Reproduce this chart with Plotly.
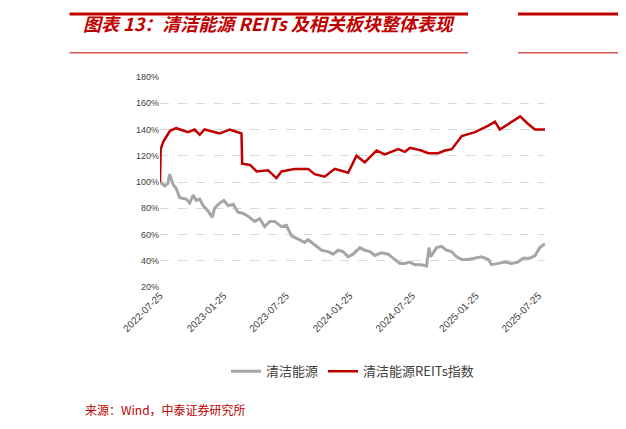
import pandas as pd
import plotly.graph_objects as go

start = pd.Timestamp("2022-07-25")

# days since 2022-07-25, value in %
reits_days = [0, 2, 10, 29, 47, 81, 100, 115, 129, 173, 202, 236, 238, 261, 280, 313, 337, 352,
              391, 429, 448, 477, 506, 545, 569, 593, 627, 651, 690, 709, 724, 757, 777, 806,
              825, 845, 874, 912, 951, 970, 984, 1009, 1043, 1067, 1086, 1115]
reits_vals = [100, 125, 131, 139, 141, 138, 140, 136, 140, 137, 140, 137, 114, 113, 108, 109, 103, 108,
              110, 110, 106, 104, 110, 107, 120, 115, 124, 121, 125, 123, 126, 124, 122, 122,
              124, 125, 135, 138, 143, 146, 140, 144, 150, 144, 140, 140]

clean_days = [0, 14, 23, 28, 38, 47, 57, 76, 86, 96, 105, 115, 125, 139, 151, 158, 173, 185, 197,
              212, 226, 241, 255, 274, 289, 303, 318, 332, 352, 366, 381, 405, 419, 429, 448, 468,
              487, 501, 516, 530, 545, 559, 579, 593, 608, 622, 641, 661, 675, 695, 709, 724, 738,
              757, 772, 779, 784, 801, 815, 830, 844, 859, 873, 893, 912, 931, 951, 960, 980, 999,
              1018, 1037, 1052, 1071, 1086, 1100, 1115]
clean_vals = [100, 97, 99, 106, 98, 95, 88, 87, 84, 90, 86, 87, 82, 78, 73, 80, 84, 86, 82,
              83, 77, 76, 74, 70, 72, 66, 70, 70, 66, 67, 59, 56, 54, 56, 52, 48,
              47, 45, 48, 47, 43, 45, 50, 48, 47, 44, 46, 45, 42, 38, 38, 39, 37,
              37, 36, 50, 43, 50, 51, 48, 47, 43, 41, 41, 42, 43, 41, 37, 38, 39,
              38, 39, 42, 42, 44, 50, 53]

tick_labels = ["2022-07-25", "2023-01-25", "2023-07-25", "2024-01-25", "2024-07-25", "2025-01-25", "2025-07-25"]

reits_x = start + pd.to_timedelta(reits_days, unit="D")
clean_x = start + pd.to_timedelta(clean_days, unit="D")

fig = go.Figure()
fig.add_trace(go.Scatter(x=clean_x, y=clean_vals, mode="lines", name="清洁能源",
                         line=dict(color="#a6a6a6", width=3)))
fig.add_trace(go.Scatter(x=reits_x, y=reits_vals, mode="lines", name="清洁能源REITs指数",
                         line=dict(color="#c00000", width=2.5)))

font = "Noto Sans CJK SC"
fig.update_layout(
    width=626, height=429,
    margin=dict(l=152, r=89, t=69, b=150),
    paper_bgcolor="white", plot_bgcolor="white",
    font=dict(family=font, color="#404040"),
    showlegend=True,
    legend=dict(orientation="h", x=0.5, xanchor="center", y=-0.33, yanchor="top",
                font=dict(size=13, color="#404040")),
    xaxis=dict(range=[reits_x[0], reits_x[-1]], tickvals=pd.to_datetime(tick_labels),
               ticktext=tick_labels, tickangle=-45, showgrid=False, zeroline=False,
               showline=False, tickfont=dict(size=10, family="Arial", color="#404040")),
    yaxis=dict(range=[20, 180], dtick=20, ticksuffix="%", showgrid=True, gridcolor="#d9d9d9",
               griddash="dash", zeroline=False, showline=False,
               tickfont=dict(size=9, family="Arial", color="#404040")),
    shapes=[
        dict(type="line", xref="paper", yref="paper", x0=-0.235, x1=0.8, y0=1.3, y1=1.3,
             line=dict(color="#c00000", width=3)),
        dict(type="line", xref="paper", yref="paper", x0=-0.235, x1=0.8, y0=1.115, y1=1.115,
             line=dict(color="#c00000", width=1)),
        dict(type="line", xref="paper", yref="paper", x0=0.93, x1=1.3, y0=1.3, y1=1.3,
             line=dict(color="#c00000", width=3)),
        dict(type="line", xref="paper", yref="paper", x0=0.93, x1=1.3, y0=1.115, y1=1.115,
             line=dict(color="#c00000", width=1)),
    ],
    annotations=[
        dict(text="<b><i>图表 13：清洁能源 REITs 及相关板块整体表现</i></b>", xref="paper", yref="paper",
             x=-0.205, y=1.255, xanchor="left", yanchor="middle", showarrow=False,
             font=dict(size=18, color="#c00000", family=font)),
        dict(text="来源：Wind，中泰证券研究所", xref="paper", yref="paper",
             x=-0.2, y=-0.585, xanchor="left", yanchor="middle", showarrow=False,
             font=dict(size=12, color="#c00000", family=font)),
    ],
)

fig.write_html("out.html")
